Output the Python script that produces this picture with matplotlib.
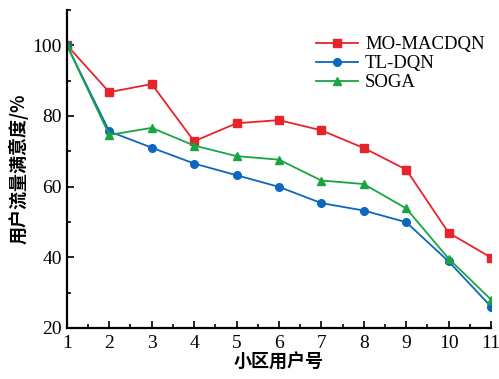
import matplotlib.pyplot as plt
import numpy as np
from matplotlib.ticker import MultipleLocator

cells = [1, 2, 3, 4, 5, 6, 7, 8, 9, 10, 11]
mo_macdqn = [100, 86.7, 89.0, 72.8, 77.9, 78.8, 75.9, 70.9, 64.8, 46.9, 39.9]
tl_dqn = [100, 75.6, 71.0, 66.5, 63.2, 59.9, 55.3, 53.2, 49.9, 38.8, 26.0]
soga = [100, 74.6, 76.6, 71.6, 68.6, 67.6, 61.7, 60.7, 53.8, 39.6, 28.0]

plt.rcParams['font.family'] = ['Liberation Serif', 'Noto Sans CJK SC']

fig = plt.figure(figsize=(4.99, 3.79), dpi=100)
ax = fig.add_axes([0.134, 0.135, 0.85, 0.839])

ax.plot(cells, mo_macdqn, color='#e8232b', marker='s', markersize=5.5, lw=1.3, label='MO-MACDQN')
ax.plot(cells, tl_dqn, color='#0b68bd', marker='o', markersize=5.5, lw=1.3, label='TL-DQN')
ax.plot(cells, soga, color='#18a542', marker='^', markersize=6, lw=1.3, label='SOGA')

ax.set_xlim(1, 11)
ax.set_ylim(20, 110)
ax.xaxis.set_major_locator(MultipleLocator(1))
ax.xaxis.set_minor_locator(MultipleLocator(0.5))
ax.yaxis.set_major_locator(MultipleLocator(20))
ax.yaxis.set_minor_locator(MultipleLocator(10))
ax.tick_params(which='both', direction='in', labelsize=14, width=1.2)
ax.tick_params(which='major', length=5)
ax.tick_params(which='minor', length=3)
ax.tick_params(axis='x', pad=5)
for s in ['top', 'right']:
    ax.spines[s].set_visible(False)
for s in ['left', 'bottom']:
    ax.spines[s].set_linewidth(1.6)

ax.set_xlabel('小区用户号', family=['Noto Sans CJK SC'], fontweight='bold', fontsize=13, labelpad=1)
ax.set_ylabel('用户流量满意度/%', family=['Noto Sans CJK SC'], fontweight='bold', fontsize=13, labelpad=3)

ax.legend(loc='upper right', bbox_to_anchor=(1.025, 0.97), frameon=False, fontsize=13.5,
          handlelength=2.2, handletextpad=0.4, labelspacing=0.1)

fig.savefig('out.png', dpi=100)
